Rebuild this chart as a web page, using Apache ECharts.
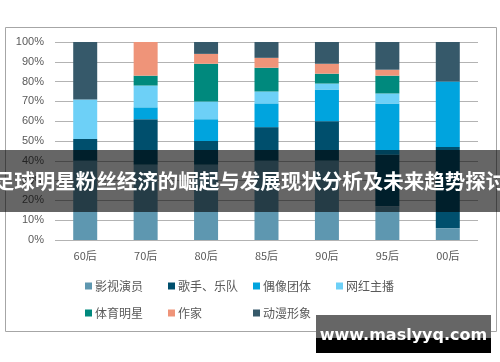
<!DOCTYPE html>
<html>
<head>
<meta charset="utf-8">
<script src="https://cdn.jsdelivr.net/npm/echarts@6/dist/echarts.min.js"></script>
<style>
html,body{margin:0;padding:0;background:#fff;}
#c{width:500px;height:362px;}
</style>
</head>
<body>
<div id="c"></div>
<script>
const categories = ['60后','70后','80后','85后','90后','95后','00后'];
const seriesNames = ['影视演员','歌手、乐队','偶像团体','网红主播','体育明星','作家','动漫形象'];
const actors   = [40, 38, 38, 40, 40, 17, 6];
const singers  = [11, 23, 12, 17, 20, 26, 41];
const idols    = [0, 6, 11, 12, 16, 26, 33];
const streamers= [20, 11, 9, 6, 3, 5, 0];
const athletes = [0, 5, 19, 12, 5, 9, 0];
const writers  = [0, 17, 5, 5, 5, 3, 0];
const anime    = [29, 0, 6, 8, 11, 14, 20];
const yTicks = [0,10,20,30,40,50,60,70,80,90,100];
const titleText = '足球明星粉丝经济的崛起与发展现状分析及未来趋势探讨';
const watermark = 'www.maslyyq.com';

const values = [actors, singers, idols, streamers, athletes, writers, anime];
const colors = ['#5e97b0','#004f6d','#00a4de','#6dd0f7','#00897d','#ef9479','#36596a'];

const legendPos = [[85,280],[168,280],[253,280],[336,280],[85,307],[168,307],[253,307]];

const chart = echarts.init(document.getElementById('c'), null, {renderer:'canvas'});
chart.setOption({
  animation:false,
  backgroundColor:'#ffffff',
  grid:{left:55, right:22, top:42, bottom:122, containLabel:false},
  xAxis:{
    type:'category', data:categories,
    axisLine:{show:false}, axisTick:{show:false},
    axisLabel:{color:'#595959', fontSize:11, margin:10, fontFamily:'"Noto Sans CJK SC", sans-serif'}
  },
  yAxis:{
    type:'value', min:0, max:100, interval:10,
    axisLine:{show:false}, axisTick:{show:false},
    splitLine:{lineStyle:{color:'#b3b3b3', width:1}},
    axisLabel:{color:'#595959', fontSize:11, margin:11, fontFamily:'"Liberation Sans", Arial, sans-serif',
      formatter: v => yTicks.includes(v) ? v + '%' : ''}
  },
  legend: seriesNames.map((n,i)=>({
    data:[n], left:legendPos[i][0], top:legendPos[i][1],
    icon:'rect', itemWidth:7, itemHeight:7, itemGap:0, padding:0,
    selectedMode:false,
    textStyle:{color:'#595959', fontSize:12, fontFamily:'"Noto Sans CJK SC", sans-serif', padding:[0,0,0,-2]}
  })),
  series: seriesNames.map((n,i)=>({
    name:n, type:'bar', stack:'total', barWidth:24,
    data: values[i],
    itemStyle:{color:colors[i]}
  })),
  graphic:[
    {type:'rect', z:-10, shape:{x:5.5, y:27.5, width:491, height:304}, style:{fill:'#ffffff', stroke:'#a6a6a6', lineWidth:1}},
    {type:'rect', z:100, shape:{x:0, y:150, width:500, height:62}, style:{fill:'rgba(0,0,0,0.6)'}},
    {type:'text', z:101, x:250, y:181, style:{text:titleText, fill:'#ffffff', font:'bold 20.5px "Noto Sans CJK SC", sans-serif', textAlign:'center', textVerticalAlign:'middle'}},
    {type:'rect', z:100, shape:{x:316, y:315, width:175, height:23}, style:{fill:'#666666'}},
    {type:'rect', z:100, shape:{x:316, y:338, width:175, height:15}, style:{fill:'#000000'}},
    {type:'text', z:101, x:403.5, y:336, style:{text:watermark, fill:'#ffffff', font:'bold 16px "DejaVu Sans", sans-serif', textAlign:'center', textVerticalAlign:'middle'}}
  ]
});
</script>
</body>
</html>
